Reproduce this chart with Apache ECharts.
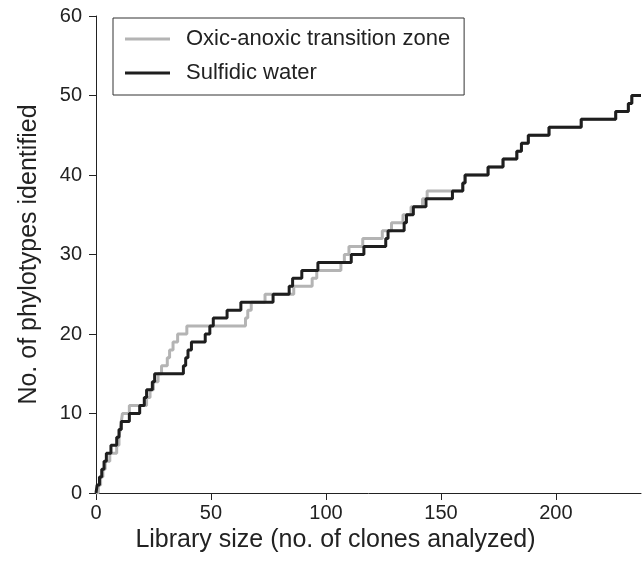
<!DOCTYPE html>
<html>
<head>
<meta charset="utf-8">
<script src="https://cdn.jsdelivr.net/npm/echarts@6/dist/echarts.min.js"></script>
<style>
  html, body { margin: 0; padding: 0; background: #fff; }
  #chart { width: 643px; height: 561px; }
</style>
</head>
<body>
<div id="chart"></div>
<script>
// rarefaction-like step curves: x = clone count where the level changes, y = phylotypes
const oxicX = [0, 1, 2, 3, 4, 6, 9, 10, 10.5, 11, 11.5, 14.5, 22, 23.5, 25, 27, 28.5, 31, 32, 33.5, 35.5, 39.5,
  65, 66, 67.5, 73.5, 86, 94, 96, 106.5, 108, 110, 116, 124.5, 128.5, 133.5, 137, 142, 144, 159.5, 160.5,
  170.5, 177, 183, 185, 188, 197, 211, 226, 231.5, 233, 237]
const oxicY = [0, 1, 2, 3, 4, 5, 6, 7, 8, 9, 10, 11, 12, 13, 14, 15, 16, 17, 18, 19, 20, 21,
  22, 23, 24, 25, 26, 27, 28, 29, 30, 31, 32, 33, 34, 35, 36, 37, 38, 39, 40,
  41, 42, 43, 44, 45, 46, 47, 48, 49, 50, 50]

const sulfX = [0, 0.5, 1.5, 2.5, 3.5, 4.5, 6.5, 9, 10, 11, 14.5, 19, 21, 22, 24.5, 25.5, 38, 39, 40, 41.5,
  47.5, 49.5, 51, 57, 63, 77, 84, 85.5, 89.5, 96.5, 111, 116.5, 126, 127, 134, 135, 138, 143.5, 155, 159.5,
  160.5, 170.5, 177, 183, 185, 188, 197, 211, 226, 231.5, 233, 237]
const sulfY = [0, 1, 2, 3, 4, 5, 6, 7, 8, 9, 10, 11, 12, 13, 14, 15, 16, 17, 18, 19,
  20, 21, 22, 23, 24, 25, 26, 27, 28, 29, 30, 31, 32, 33, 34, 35, 36, 37, 38, 39,
  40, 41, 42, 43, 44, 45, 46, 47, 48, 49, 50, 50]

const seriesNames = ['Oxic-anoxic transition zone', 'Sulfidic water']
const xTitle = 'Library size (no. of clones analyzed)'
const yTitle = 'No. of phylotypes identified'

const pairs = (xs, ys) => xs.map((x, i) => [x, ys[i]])

const chart = echarts.init(document.getElementById('chart'))
const font = 'Liberation Sans, Arial, sans-serif'

chart.setOption({
  animation: false,
  textStyle: { fontFamily: font },
  grid: { left: 96, top: 16, width: 545, height: 477, containLabel: false },
  legend: {
    orient: 'vertical',
    left: 113,
    top: 18,
    padding: [10, 14, 11, 12],
    itemGap: 12,
    borderColor: '#333',
    borderWidth: 1,
    icon: 'rect',
    itemWidth: 45,
    itemHeight: 3,
    data: seriesNames,
    textStyle: { fontSize: 22, color: '#222', fontFamily: font, padding: [0, 0, 0, 11] }
  },
  xAxis: {
    type: 'value',
    min: 0,
    max: 237,
    interval: 50,
    name: xTitle,
    nameLocation: 'middle',
    nameGap: 35,
    nameTextStyle: { fontSize: 25, color: '#222', fontFamily: font, padding: [0, 66, 0, 0] },
    splitLine: { show: false },
    axisLine: { show: true, onZero: false, lineStyle: { color: '#222', width: 1 } },
    axisTick: { show: true, length: 7, lineStyle: { color: '#222' } },
    axisLabel: {
      fontSize: 20,
      color: '#222',
      margin: 10,
      showMaxLabel: false,
      formatter: v => (v % 50 === 0 ? String(v) : '')
    }
  },
  yAxis: {
    type: 'value',
    min: 0,
    max: 60,
    interval: 10,
    name: yTitle,
    nameLocation: 'middle',
    nameGap: 54,
    nameTextStyle: { fontSize: 25, color: '#222', fontFamily: font },
    splitLine: { show: false },
    axisLine: { show: true, lineStyle: { color: '#222', width: 1 } },
    axisTick: { show: true, length: 7, lineStyle: { color: '#222' } },
    axisLabel: { fontSize: 20, color: '#222', margin: 14 }
  },
  series: [
    {
      name: seriesNames[0],
      type: 'line',
      step: 'end',
      showSymbol: false,
      data: pairs(oxicX, oxicY),
      itemStyle: { color: '#b4b4b4' },
      lineStyle: { color: '#b4b4b4', width: 3 }
    },
    {
      name: seriesNames[1],
      type: 'line',
      step: 'end',
      showSymbol: false,
      data: pairs(sulfX, sulfY),
      itemStyle: { color: '#1e1e1e' },
      lineStyle: { color: '#1e1e1e', width: 3 }
    }
  ]
})
</script>
</body>
</html>
